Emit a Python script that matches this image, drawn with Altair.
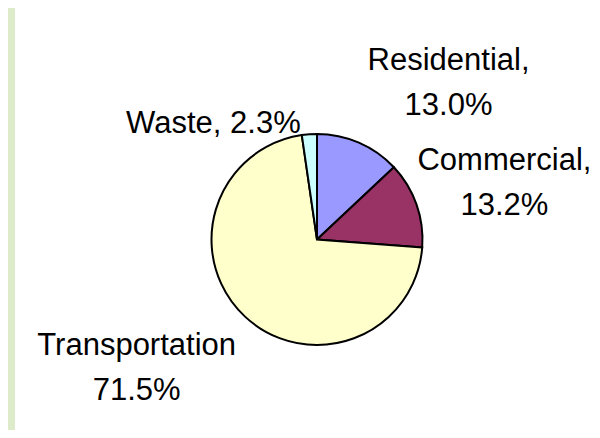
import altair as alt
import pandas as pd

categories = ["Residential", "Commercial", "Transportation", "Waste"]
shares = [13.0, 13.2, 71.5, 2.3]
separators = [",\n", ",\n", "\n", ", "]
colors = ["#9999FF", "#993366", "#FFFFCC", "#CCFFFF"]

df = pd.DataFrame({
    "category": categories,
    "share": shares,
    "order": list(range(len(categories))),
    "label": [f"{c}{s}{v:.1f}%" for c, s, v in zip(categories, separators, shares)],
})

CX, CY, R = 302, 231.5, 105.5
FONT = "Liberation Sans"

base = alt.Chart(df).encode(
    theta=alt.Theta("share:Q", stack=True),
    order=alt.Order("order:Q"),
    x=alt.value(CX),
    y=alt.value(CY),
)

pie = base.mark_arc(radius=R, stroke="black", strokeWidth=2).encode(
    color=alt.Color("category:N", scale=alt.Scale(domain=categories, range=colors), legend=None)
)

# label placement tweaks (style): category -> (radius, dx, dy, align)
tweaks = {
    "Residential": (150, 72, -41, "center"),
    "Commercial": (150, 46, -29, "center"),
    "Transportation": (150, -78, -3, "center"),
    "Waste": (115, -8, -1, "right"),
}

layers = [pie]
for cat in categories:
    r, dx, dy, al = tweaks[cat]
    layers.append(
        base.mark_text(
            radius=r, dx=dx, dy=dy, align=al, baseline="middle",
            font=FONT, fontSize=31, lineBreak="\n", lineHeight=45, color="black",
        ).encode(
            text=alt.condition(alt.datum.category == cat, "label:N", alt.value(""))
        )
    )

chart = alt.layer(*layers).properties(
    width=577, height=422,
    padding={"left": 7, "top": 0, "right": 0, "bottom": 0},
    autosize=alt.AutoSizeParams(type="none"),
    background="#DDEBCA",
).configure_view(fill="white", strokeOpacity=0, strokeWidth=0)

chart.save("out.html", embed_options={"renderer": "svg", "actions": False})
